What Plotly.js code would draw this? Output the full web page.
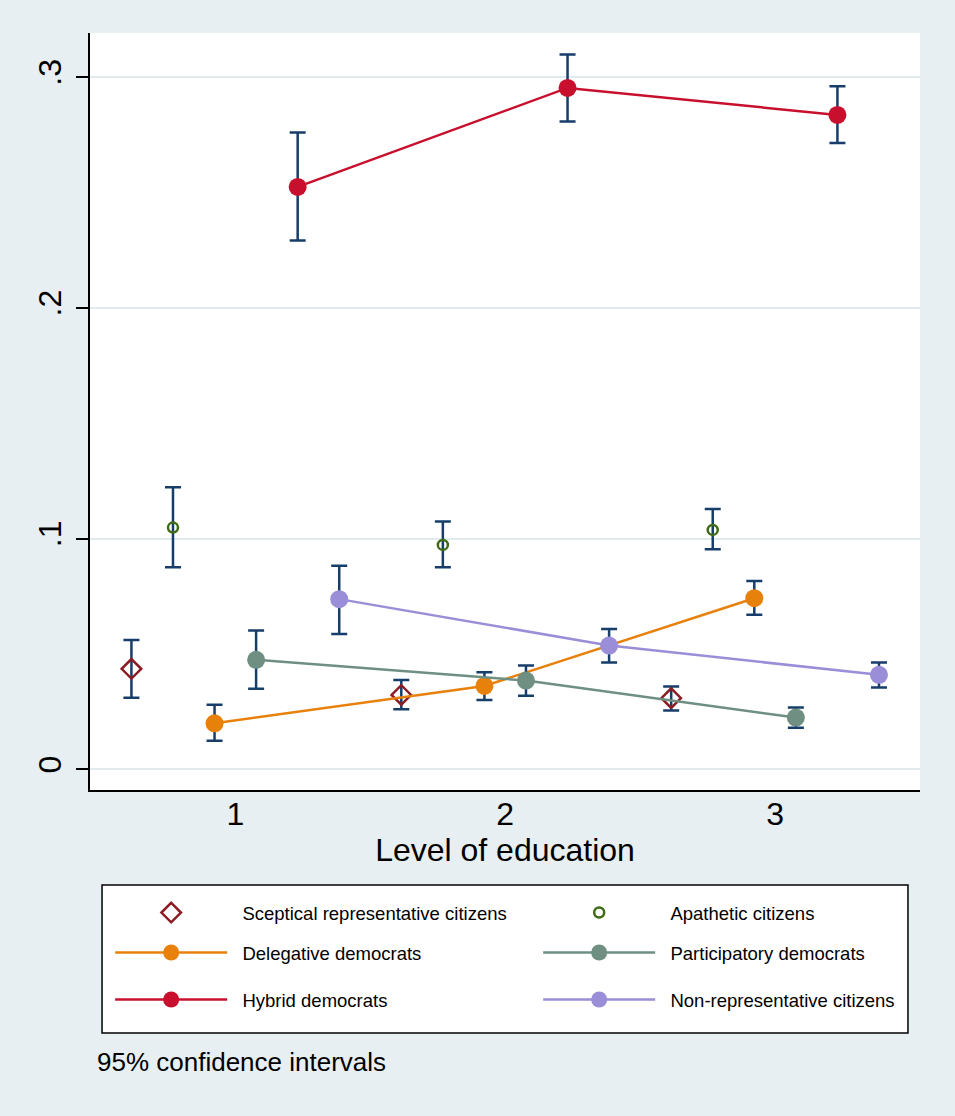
<!DOCTYPE html>
<html>
<head>
<meta charset="utf-8">
<script src="https://cdn.plot.ly/plotly-3.0.1.min.js"></script>
<style>html,body{margin:0;padding:0;background:#e7eff2;}</style>
</head>
<body>
<div id="chart" style="width:955px;height:1116px;"></div>
<script>
// ---- data ----
const levels = [1, 2, 3];
const groupOffsets = [-0.385, -0.231, -0.077, 0.077, 0.231, 0.385];
const seriesNames = [
  "Sceptical representative citizens",
  "Apathetic citizens",
  "Delegative democrats",
  "Participatory democrats",
  "Hybrid democrats",
  "Non-representative citizens"
];
const sceptical      = [0.0436, 0.0323, 0.0309];
const scepticalLo    = [0.0311, 0.0261, 0.0255];
const scepticalHi    = [0.0561, 0.0388, 0.0359];
const apathetic      = [0.1048, 0.0973, 0.1038];
const apatheticLo    = [0.0876, 0.0876, 0.0954];
const apatheticHi    = [0.1223, 0.1074, 0.1129];
const delegative     = [0.0200, 0.0362, 0.0742];
const delegativeLo   = [0.0124, 0.0301, 0.0670];
const delegativeHi   = [0.0280, 0.0421, 0.0817];
const participatory  = [0.0475, 0.0385, 0.0225];
const participatoryLo= [0.0350, 0.0319, 0.0181];
const participatoryHi= [0.0602, 0.0450, 0.0268];
const hybrid         = [0.2524, 0.2953, 0.2836];
const hybridLo       = [0.2292, 0.2808, 0.2714];
const hybridHi       = [0.2760, 0.3098, 0.2960];
const nonrep         = [0.0738, 0.0537, 0.0410];
const nonrepLo       = [0.0587, 0.0463, 0.0355];
const nonrepHi       = [0.0883, 0.0609, 0.0463];
const yTickVals = [0, 0.1, 0.2, 0.3];
const yTickText = ["0", ".1", ".2", ".3"];
const xTickVals = [1, 2, 3];
const xTitle = "Level of education";
const note = "95% confidence intervals";

// ---- styles ----
const means = [sceptical, apathetic, delegative, participatory, hybrid, nonrep];
const los = [scepticalLo, apatheticLo, delegativeLo, participatoryLo, hybridLo, nonrepLo];
const his = [scepticalHi, apatheticHi, delegativeHi, participatoryHi, hybridHi, nonrepHi];
const colors = ["#8b1c24", "#3f6b12", "#e8810c", "#6e8f81", "#c8102e", "#9b8ed8"];
const modes = ["markers", "markers", "lines+markers", "lines+markers", "lines+markers", "lines+markers"];
const symbols = ["diamond-open", "circle-open", "circle", "circle", "circle", "circle"];
const sizes = [15, 10, 18, 18, 18, 18];
const legendIds = ["legend", "legend", "legend2", "legend2", "legend3", "legend3"];
const barColor = "#173e6b";
const FONT = "Liberation Sans, Arial, Helvetica, sans-serif";
const PAD = "\u00a0\u00a0";

const traces = seriesNames.map((name, i) => ({
  type: "scatter",
  name: PAD + name,
  mode: modes[i],
  x: levels.map(l => l + groupOffsets[i]),
  y: means[i],
  error_y: {
    type: "data",
    symmetric: false,
    array: his[i].map((h, k) => h - means[i][k]),
    arrayminus: means[i].map((m, k) => m - los[i][k]),
    color: barColor,
    thickness: 2.5,
    width: 8
  },
  line: { color: colors[i], width: 2.5 },
  marker: {
    symbol: symbols[i],
    size: sizes[i],
    color: colors[i],
    line: { color: colors[i], width: i < 2 ? 2.5 : 0 }
  },
  legend: legendIds[i],
  hoverinfo: "x+y"
}));

const legendCommon = {
  orientation: "h",
  xanchor: "left",
  yanchor: "middle",
  x: -0.001,
  indentation: 21,
  bgcolor: "rgba(0,0,0,0)",
  borderwidth: 0,
  itemwidth: 112,
  entrywidth: 280,
  traceorder: "normal",
  font: { family: FONT, size: 18.5, color: "#000" },
  itemclick: false,
  itemdoubleclick: false
};

const layout = {
  width: 955,
  height: 1116,
  paper_bgcolor: "#e7eff2",
  plot_bgcolor: "#ffffff",
  margin: { l: 90, r: 35, t: 33, b: 326 },
  font: { family: FONT, color: "#000" },
  showlegend: true,
  xaxis: {
    range: [0.4615, 3.537],
    tickvals: xTickVals,
    ticktext: xTickVals.map(String),
    ticks: "",
    showline: true,
    linecolor: "#000",
    linewidth: 1.5,
    showgrid: false,
    zeroline: false,
    tickfont: { family: FONT, size: 32, color: "#000" },
    ticklabelstandoff: -5,
    title: { text: xTitle, font: { family: FONT, size: 32, color: "#000" }, standoff: 3 },
    automargin: false
  },
  yaxis: {
    range: [-0.0089, 0.3191],
    tickvals: yTickVals,
    ticktext: yTickText,
    tickangle: -90,
    ticks: "outside",
    ticklen: 12,
    tickwidth: 1.5,
    tickcolor: "#000",
    showline: true,
    linecolor: "#000",
    linewidth: 1.5,
    showgrid: true,
    gridcolor: "#e1ebee",
    gridwidth: 2,
    zeroline: false,
    tickfont: { family: FONT, size: 32, color: "#000" },
    ticklabelstandoff: 2,
    automargin: false
  },
  legend:  Object.assign({}, legendCommon, { y: -0.1625 }),
  legend2: Object.assign({}, legendCommon, { y: -0.2153 }),
  legend3: Object.assign({}, legendCommon, { y: -0.2774 }),
  shapes: [{
    type: "rect", xref: "paper", yref: "paper",
    x0: 0.0145, x1: 0.9855, y0: -0.321, y1: -0.1255,
    line: { color: "#000", width: 1.5 }, fillcolor: "#ffffff", layer: "below"
  }],
  annotations: [{
    text: note, xref: "paper", yref: "paper",
    x: 0.006, y: -0.3593, xanchor: "left", yanchor: "middle",
    showarrow: false, font: { family: FONT, size: 26, color: "#000" }
  }]
};

Plotly.newPlot("chart", traces, layout, { displayModeBar: false });
</script>
</body>
</html>
